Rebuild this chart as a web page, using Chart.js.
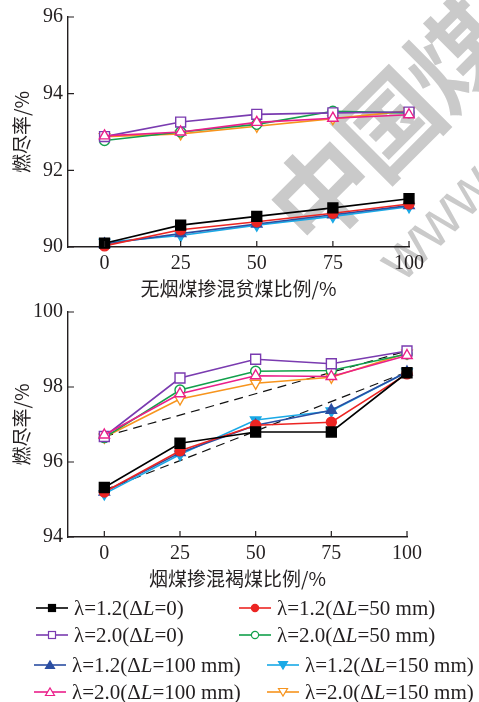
<!DOCTYPE html>
<html>
<head>
<meta charset="utf-8">
<script src="https://cdn.jsdelivr.net/npm/chart.js@4.4.1/dist/chart.umd.min.js"></script>
<style>
  html, body { margin: 0; padding: 0; background: #fff; }
  body { width: 479px; height: 702px; position: relative; overflow: hidden; }
  .wm { position: absolute; color: #cacaca; font-family: "Noto Sans CJK SC", sans-serif; font-weight: 700; pointer-events: none; z-index: 0; white-space: nowrap; }
  canvas { position: absolute; left: 0; z-index: 1; }
  #legend { position: absolute; left: 0; top: 590px; width: 479px; height: 112px; z-index: 1;
            font-family: "Liberation Serif", "Times New Roman", serif; font-size: 21px; color: #231f20; }
  .item { position: absolute; display: flex; align-items: center; height: 24px; white-space: nowrap; }
  .item svg { margin-right: 6px; }
</style>
</head>
<body>
<div class="wm" style="left:268px; top:138px; font-size:100px; line-height:100px; letter-spacing:-4px; transform-origin: 50px 50px; transform: rotate(-45deg);">中国煤炭</div>
<div class="wm" style="left:388px; top:238px; font-size:62px; line-height:62px; font-family:'Liberation Sans',sans-serif; font-weight:400; transform-origin: 0 31px; transform: rotate(-45deg);">www</div>

<canvas id="topChart" width="479" height="300" style="top:0;"></canvas>
<canvas id="bottomChart" width="479" height="295" style="top:295px;"></canvas>
<div id="legend"></div>

<script>
// x categories (blend ratio, %)
const ratios = [0, 25, 50, 75, 100];

// top chart: 无烟煤掺混贫煤
const topL12dL0   = [90.10, 90.57, 90.80, 91.02, 91.26];
const topL12dL50  = [90.03, 90.45, 90.66, 90.88, 91.12];
const topL12dL100 = [90.08, 90.35, 90.60, 90.84, 91.08];
const topL12dL150 = [90.12, 90.30, 90.57, 90.80, 91.05];
const topL20dL0   = [92.88, 93.26, 93.46, 93.50, 93.52];
const topL20dL50  = [92.78, 93.00, 93.20, 93.54, 93.50];
const topL20dL100 = [92.90, 93.00, 93.25, 93.36, 93.45];
const topL20dL150 = [92.88, 92.95, 93.15, 93.35, 93.55];

// bottom chart: 烟煤掺混褐煤
const botL12dL0   = [95.32, 96.50, 96.80, 96.80, 98.38];
const botL12dL50  = [95.20, 96.30, 96.98, 97.06, 98.35];
const botL12dL100 = [95.20, 96.25, 96.98, 97.38, 98.40];
const botL12dL150 = [95.15, 96.20, 97.12, 97.36, 98.40];
const botL20dL0   = [96.68, 98.24, 98.74, 98.62, 98.96];
const botL20dL50  = [96.65, 97.92, 98.42, 98.44, 98.88];
const botL20dL100 = [96.72, 97.82, 98.30, 98.28, 98.84];
const botL20dL150 = [96.66, 97.68, 98.10, 98.26, 98.90];

// dashed reference lines (bottom chart), endpoints at x = 0 and 100
const dashX = [0, 100];
const dashUpper = [96.68, 98.96];
const dashLower = [95.25, 98.40];

// tick labels
const topYTicks = [90, 92, 94, 96];
const botYTicks = [94, 96, 98, 100];

const seriesNames = [
  'λ=1.2(ΔL=0)', 'λ=1.2(ΔL=50 mm)',
  'λ=2.0(ΔL=0)', 'λ=2.0(ΔL=50 mm)',
  'λ=1.2(ΔL=100 mm)', 'λ=1.2(ΔL=150 mm)',
  'λ=2.0(ΔL=100 mm)', 'λ=2.0(ΔL=150 mm)'
];

// style per series, same order as seriesNames
const styles = [
  { color: '#000000', point: 'rect',     fill: true,  radius: 7 },
  { color: '#ec2523', point: 'circle',   fill: true,  radius: 5 },
  { color: '#7a3bb0', point: 'rect',     fill: false, radius: 7 },
  { color: '#12a04c', point: 'circle',   fill: false, radius: 5 },
  { color: '#2b4ea2', point: 'triangle', fill: true,  radius: 6 },
  { color: '#1aa9e6', point: 'triangle', fill: true,  radius: 6, rot: 180 },
  { color: '#ea1f8a', point: 'triangle', fill: false, radius: 6 },
  { color: '#f7941d', point: 'triangle', fill: false, radius: 6, rot: 180 }
];

const topSeries = [topL12dL0, topL12dL50, topL20dL0, topL20dL50, topL12dL100, topL12dL150, topL20dL100, topL20dL150];
const botSeries = [botL12dL0, botL12dL50, botL20dL0, botL20dL50, botL12dL100, botL12dL150, botL20dL100, botL20dL150];

// draw order (last on top)
const drawOrder = [5, 4, 1, 0, 7, 3, 2, 6];

function buildDatasets(seriesList) {
  return drawOrder.map((i, k) => {
    const s = styles[i];
    return {
      label: seriesNames[i],
      data: ratios.map((x, j) => ({ x: x, y: seriesList[i][j] })),
      borderColor: s.color,
      borderWidth: 1.6,
      pointStyle: s.point,
      pointRotation: s.rot || 0,
      pointRadius: s.radius,
      pointBorderWidth: 1.4,
      pointBackgroundColor: s.fill ? s.color : '#ffffff',
      pointBorderColor: s.color,
      order: drawOrder.length - k,
      tension: 0,
      clip: false
    };
  });
}

function dashDataset(values) {
  return {
    data: dashX.map((x, j) => ({ x: x, y: values[j] })),
    borderColor: '#111',
    borderWidth: 1.2,
    borderDash: [9, 6],
    pointRadius: 0,
    order: 20,
    clip: false
  };
}

// inward tick marks
const inwardTicks = {
  id: 'inwardTicks',
  afterDraw(chart) {
    const ctx = chart.ctx;
    const xs = chart.scales.x, ys = chart.scales.y;
    const area = chart.chartArea;
    ctx.save();
    ctx.strokeStyle = '#231f20';
    ctx.lineWidth = 1.2;
    ctx.beginPath();
    ratios.forEach(v => {
      const px = xs.getPixelForValue(v);
      ctx.moveTo(px, area.bottom);
      ctx.lineTo(px, area.bottom - 6);
    });
    ys.ticks.forEach(t => {
      const py = ys.getPixelForValue(t.value);
      ctx.moveTo(area.left, py);
      ctx.lineTo(area.left + 6, py);
    });
    ctx.stroke();
    ctx.restore();
  }
};

const tickFont = { family: '"Liberation Serif", "Times New Roman", serif', size: 20 };
const titleFont = { family: '"Noto Sans CJK SC", sans-serif', size: 19 };

function makeChart(id, datasets, yTicks, xTitle, rightPad) {
  return new Chart(document.getElementById(id), {
    type: 'line',
    data: { datasets: datasets },
    plugins: [inwardTicks],
    options: {
      responsive: false,
      animation: false,
      layout: { padding: { top: 15, right: rightPad, left: 0, bottom: 0 } },
      plugins: { legend: { display: false }, tooltip: { enabled: false } },
      scales: {
        x: {
          type: 'linear',
          min: -12,
          max: 100,
          afterBuildTicks: scale => { scale.ticks = ratios.map(v => ({ value: v })); },
          afterFit: scale => { scale.height = 53; },
          grid: { display: false, drawTicks: false },
          border: { display: true, color: '#231f20', width: 1.4 },
          ticks: { font: tickFont, color: '#231f20', padding: 5, maxRotation: 0, autoSkip: false },
          title: { display: true, text: xTitle, font: titleFont, color: '#231f20', padding: { top: 0, bottom: 0 } }
        },
        y: {
          min: yTicks[0],
          max: yTicks[yTicks.length - 1],
          afterBuildTicks: scale => { scale.ticks = yTicks.map(v => ({ value: v })); },
          afterFit: scale => { scale.width = 68; },
          grid: { display: false, drawTicks: false },
          border: { display: true, color: '#231f20', width: 1.4 },
          ticks: { font: tickFont, color: '#231f20', padding: 5 },
          title: { display: true, text: '燃尽率/%', font: titleFont, color: '#231f20', padding: { top: 10, bottom: 0 } }
        }
      }
    }
  });
}

makeChart('topChart', buildDatasets(topSeries), topYTicks, '无烟煤掺混贫煤比例/%', 70);
makeChart('bottomChart', buildDatasets(botSeries).concat([dashDataset(dashUpper), dashDataset(dashLower)]),
  botYTicks, '烟煤掺混褐煤比例/%', 72);

// legend layout (left, top) for each entry, in seriesNames order
const legendPos = [
  [36, 6], [239, 6], [36, 33], [239, 33],
  [34, 63], [267, 63], [34, 90], [267, 90]
];

function markerSvg(s) {
  const w = 32, h = 14, cx = 16, cy = 7;
  const fill = s.fill ? s.color : '#fff';
  let shape = '';
  if (s.point === 'rect') shape = `<rect x="${cx - 3.5}" y="${cy - 3.5}" width="7" height="7" fill="${fill}" stroke="${s.color}" stroke-width="1.2"/>`;
  else if (s.point === 'circle') shape = `<circle cx="${cx}" cy="${cy}" r="3.6" fill="${fill}" stroke="${s.color}" stroke-width="1.2"/>`;
  else if (s.rot) shape = `<polygon points="${cx - 4.5},${cy - 3.5} ${cx + 4.5},${cy - 3.5} ${cx},${cy + 4}" fill="${fill}" stroke="${s.color}" stroke-width="1.2"/>`;
  else shape = `<polygon points="${cx - 4.5},${cy + 3.5} ${cx + 4.5},${cy + 3.5} ${cx},${cy - 4}" fill="${fill}" stroke="${s.color}" stroke-width="1.2"/>`;
  return `<svg width="${w}" height="${h}"><line x1="0" y1="${cy}" x2="${w}" y2="${cy}" stroke="${s.color}" stroke-width="1.6"/>${shape}</svg>`;
}

const legend = document.getElementById('legend');
seriesNames.forEach((name, i) => {
  const div = document.createElement('div');
  div.className = 'item';
  div.style.left = legendPos[i][0] + 'px';
  div.style.top = legendPos[i][1] + 'px';
  const text = name.replace('L=', '<i>L</i>=');
  div.innerHTML = markerSvg(styles[i]) + '<span>' + text + '</span>';
  legend.appendChild(div);
});
</script>
</body>
</html>
